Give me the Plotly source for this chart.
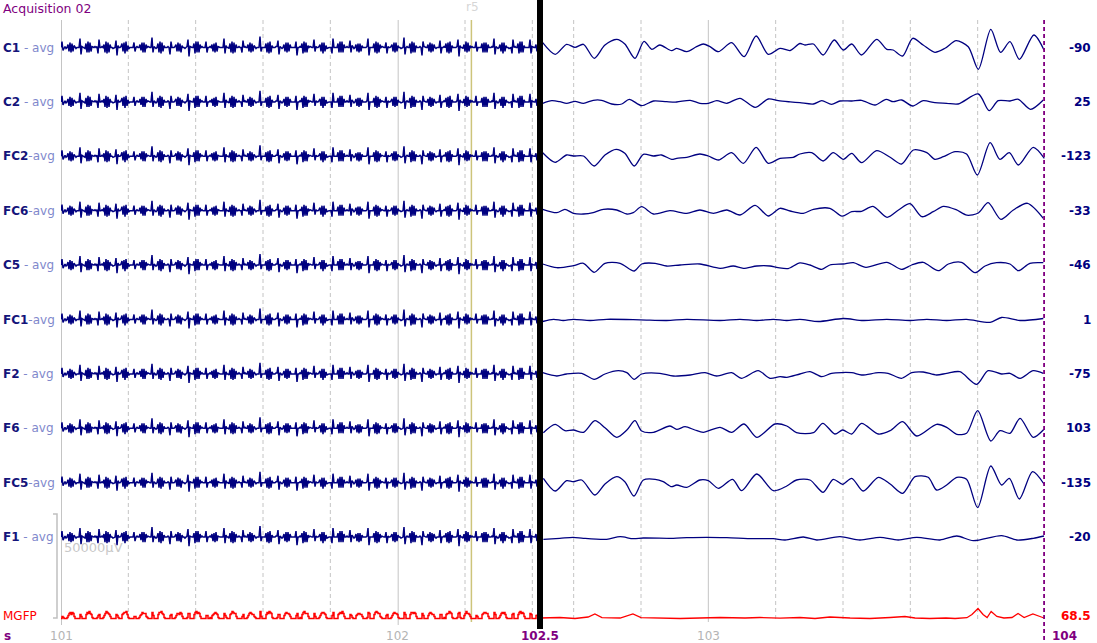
import numpy as np
import plotly.graph_objects as go

# ---------------- data ----------------
channels = ["C1", "C2", "FC2", "FC6", "C5", "FC1", "F2", "F6", "FC5", "F1"]
ref_suffix = [" - avg", " - avg", "-avg", "-avg", " - avg", "-avg", " - avg", " - avg", "-avg", " - avg"]
cursor_values = ["-90", "25", "-123", "-33", "-46", "1", "-75", "103", "-135", "-20"]
mgfp_value = "68.5"

# older sweep (101 s .. cursor): stimulation artefact, same on every channel (one sample per display step)
artifact = [
    0, 6, -3, 0, 1, -1, 0, 3, -4, 5, -5, 4, -4, 2, 0, -1, 0, 0,
    0, 9, -7, 1, 0, 0, -1, 4, -5, 6, -5, 5, -4, 1, 0, 0, 1, 0,
    1, -6, 8, 0, 0, 1, 0, 3, -5, 6, -6, 5, -5, 3, 0, 0, -1, 0,
    0, 7, -8, 2, 0, 0, 1, 4, -4, 5, -6, 6, -4, 2, -1, 0, 0, 0,
    0, 5, -4, 0, 1, 0, 0, 3, -3, 5, -5, 5, -5, 3, 0, 1, 0, 0,
    0, 10, -5, 1, 0, -1, 0, 4, -5, 6, -6, 5, -4, 2, 0, 0, 0, 1,
    0, -7, 6, 0, 0, 0, 1, 3, -4, 5, -4, 4, -5, 2, 0, 0, -1, 0,
    1, 8, -9, 1, 0, 0, 0, 4, -6, 6, -5, 6, -5, 3, 0, 1, 0, 0,
    0, 6, -5, 0, 0, 1, 0, 3, -4, 4, -5, 5, -4, 1, 0, 0, 0, 0,
    0, 9, -6, 2, 0, 0, -1, 4, -5, 6, -6, 5, -5, 3, 0, 0, 1, 0,
    0, -5, 7, 0, 1, 0, 0, 3, -4, 5, -5, 4, -4, 2, 0, -1, 0, 0,
    0, 11, -4, 0, 0, 0, 0, 4, -5, 5, -6, 6, -5, 2, 0, 0, 0, 1,
    1, 7, -7, 1, 0, -1, 0, 3, -4, 5, -5, 5, -4, 3, 0, 0, 0, 0,
    0, 6, -8, 0, 0, 1, 0, 4, -6, 6, -5, 5, -5, 2, 0, 1, 0, 0,
    0, 8, -4, 1, 0, 0, 1, 3, -4, 5, -6, 5, -4, 2, -1, 0, 0, 0,
    0, -6, 9, 0, 0, 0, 0, 4, -5, 6, -5, 6, -5, 3, 0, 0, 1, 0,
    0, 7, -5, 2, 0, -1, 0, 3, -4, 4, -5, 4, -4, 2, 0, 0, 0, 0,
    1, 9, -8, 0, 0, 0, 0, 4, -5, 6, -6, 5, -5, 3, 0, 1, 0, 0,
    0, 5, -6, 1, 0, 0, 1, 3, -4, 5, -5, 5, -4, 2, 0, 0, -1, 0,
    0, 10, -7, 0, 1, 0, 0, 4, -6, 6, -5, 5, -5, 2, 0, 0, 0, 1,
    0, -8, 6, 1, 0, 0, 0, 3, -4, 5, -5, 4, -4, 3, 0, -1, 0, 0,
    0, 7, -6, 0, 0, 1, 0, 4, -5, 5, -6, 6, -5, 2, 0, 0, 0, 0,
    1, 8, -9, 2, 0, 0, -1, 3, -4, 6, -5, 5, -4, 2, 0, 1, 0, 0,
    0, 6, -4, 0, 0, 0, 0, 4, -5, 5, -5, 5, -5, 3, 0, 0, 0, 1,
    0, 9, -7, 1, 0, -1, 0, 3, -4, 5, -6, 5, -4, 2, 0, 0, -1, 0,
    0, -6, 8, 0, 1, 0, 0, 4, -6, 6, -5, 6, -5, 2, 0, 0, 0, 0,
    0, 8, -6, 1, 0, 0, 0, 3, -4,
]

mgfp_left = [
    0, 2, 1, 0, 0, 0, 1, 3, 5, 6, 4, 6, 5, 2, 0, 0, 0, 0,
    0, 4, 2, 0, 0, 0, 0, 4, 6, 5, 7, 5, 4, 1, 0, 0, 0, 0,
    1, 3, 4, 0, 0, 0, 1, 3, 5, 7, 6, 5, 4, 2, 0, 0, 0, 0,
    0, 4, 3, 1, 0, 0, 0, 4, 5, 6, 6, 7, 4, 1, 0, 0, 0, 0,
    0, 2, 2, 0, 0, 0, 1, 3, 4, 6, 5, 5, 5, 2, 1, 0, 0, 0,
    0, 6, 3, 0, 0, 0, 0, 4, 6, 6, 7, 5, 4, 1, 0, 0, 0, 0,
    0, 3, 4, 0, 0, 0, 1, 3, 5, 5, 4, 6, 5, 2, 0, 0, 0, 0,
    1, 5, 5, 0, 0, 0, 0, 4, 6, 7, 5, 6, 5, 2, 0, 0, 0, 0,
    0, 3, 3, 0, 0, 1, 0, 3, 4, 5, 6, 5, 4, 1, 0, 0, 0, 0,
    0, 5, 3, 1, 0, 0, 0, 4, 5, 7, 6, 5, 5, 2, 0, 0, 0, 0,
    0, 2, 4, 0, 0, 0, 1, 3, 5, 6, 5, 4, 4, 2, 1, 0, 0, 0,
    0, 7, 2, 0, 0, 0, 0, 4, 6, 5, 7, 6, 5, 1, 0, 0, 0, 0,
    1, 4, 4, 0, 0, 0, 0, 3, 5, 6, 5, 5, 4, 2, 0, 0, 0, 0,
    0, 3, 5, 0, 0, 1, 0, 4, 6, 7, 5, 5, 5, 2, 0, 0, 0, 0,
    0, 5, 2, 0, 0, 0, 1, 3, 5, 6, 6, 5, 4, 1, 0, 0, 0, 0,
    0, 3, 6, 0, 0, 0, 0, 4, 5, 6, 5, 7, 5, 2, 0, 0, 0, 0,
    0, 4, 3, 1, 0, 0, 0, 3, 4, 5, 5, 4, 4, 2, 0, 0, 0, 0,
    1, 6, 5, 0, 0, 0, 0, 4, 6, 7, 6, 5, 5, 2, 1, 0, 0, 0,
    0, 3, 4, 0, 0, 0, 1, 3, 5, 6, 5, 5, 4, 1, 0, 0, 0, 0,
    0, 6, 4, 0, 0, 0, 0, 4, 6, 6, 5, 6, 5, 2, 0, 0, 0, 0,
    0, 5, 3, 0, 0, 0, 0, 3, 5, 6, 5, 4, 4, 2, 0, 0, 0, 0,
    0, 4, 4, 0, 0, 1, 0, 4, 5, 5, 7, 6, 5, 1, 0, 0, 0, 0,
    1, 5, 6, 1, 0, 0, 0, 3, 5, 7, 5, 5, 4, 2, 0, 0, 0, 0,
    0, 3, 2, 0, 0, 0, 0, 4, 5, 6, 6, 5, 5, 2, 0, 0, 0, 0,
    0, 6, 4, 0, 0, 0, 1, 3, 5, 6, 5, 6, 4, 1, 0, 0, 0, 0,
    0, 4, 5, 0, 0, 0, 0, 4, 6, 7, 5, 6, 5, 2, 0, 0, 0, 0,
    0, 5, 4, 0, 0, 0, 0, 3, 4,
]

# current sweep (102.5 s .. 104 s): time (s) / amplitude pairs per channel
c1_t = [102.508, 102.545, 102.579, 102.604, 102.629, 102.661, 102.693, 102.728, 102.752, 102.782, 102.809,
        102.832, 102.856, 102.891, 102.906, 102.936, 102.965, 102.985, 103.005, 103.030, 103.069, 103.106,
        103.142, 103.178, 103.213, 103.243, 103.272, 103.287, 103.312, 103.341, 103.374, 103.401, 103.426,
        103.455, 103.500, 103.530, 103.549, 103.577, 103.607, 103.638, 103.673, 103.703, 103.736, 103.772,
        103.802, 103.839, 103.868, 103.896, 103.924, 103.967, 103.997]
c1_v = [4.8, -6.8, 3.2, 0.2, 3.2, -10.8, 2.5, 8.2, 3.5, -10.8, 6.2,
        -1.8, 2.5, -3.2, -0.8, -4.2, 0.8, 3.5, 0.8, -4.2, 4.8, -9.2,
        11.5, -6.8, -0.8, -3.0, 4.0, 2.5, 3.5, -7.5, 7.5, -2.5, 3.5,
        -7.5, 8.2, -1.8, -2.5, -8.5, 9.2, 2.5, -4.8, -0.8, 6.8, 0.8,
        -21.8, 18.2, -4.8, 5.8, -11.8, 12.5, -2.5]

c2_t = [102.508, 102.535, 102.559, 102.579, 102.604, 102.629, 102.658, 102.683, 102.713, 102.743, 102.765,
        102.802, 102.837, 102.876, 102.906, 102.946, 102.975, 103.000, 103.025, 103.055, 103.094, 103.139,
        103.178, 103.208, 103.243, 103.272, 103.312, 103.337, 103.366, 103.391, 103.426, 103.455, 103.495,
        103.528, 103.549, 103.574, 103.607, 103.638, 103.673, 103.708, 103.742, 103.802, 103.834, 103.861,
        103.896, 103.921, 103.957, 103.995]
c2_v = [-1.4, 1.2, 0.2, -1.4, 0.6, -1.4, 1.6, 1.6, -2.1, -2.1, 2.6,
        -3.8, 0.9, 0.2, -0.1, 1.6, -1.4, -1.4, 1.2, -1.4, 3.6, -5.4,
        2.9, 1.2, 0.0, -0.8, -2.1, 1.2, -2.4, 0.9, 0.9, 1.6, -3.1,
        2.6, 0.2, 1.9, -4.1, 1.2, -0.8, -1.4, -2.1, 7.9, -8.8, 1.2,
        0.9, 2.6, -7.4, 1.9]

fc2_t = [102.508, 102.545, 102.579, 102.599, 102.629, 102.661, 102.693, 102.726, 102.752, 102.780, 102.807,
         102.837, 102.861, 102.891, 102.906, 102.936, 102.975, 103.000, 103.030, 103.069, 103.104, 103.142,
         103.178, 103.213, 103.252, 103.272, 103.307, 103.341, 103.371, 103.401, 103.426, 103.455, 103.500,
         103.540, 103.574, 103.609, 103.649, 103.673, 103.698, 103.733, 103.767, 103.799, 103.837, 103.866,
         103.894, 103.921, 103.965, 103.998]
fc2_v = [3.6, -6.0, 1.3, 0.3, 0.3, -9.7, 1.3, 7.0, 3.0, -9.7, 2.0,
         0.3, 1.3, -3.0, -2.0, -1.0, 2.3, 0.3, -3.7, 3.6, -7.0, 9.0,
         -7.0, -2.0, -1.0, 2.3, 3.6, -4.7, 3.6, -3.0, 3.0, -6.4, 5.6,
         -1.0, -7.7, 6.3, 3.6, -3.0, -0.4, 4.6, 2.3, -18.7, 13.6, -3.0,
         3.6, -8.7, 9.0, -2.0]

fc6_t = [102.508, 102.550, 102.574, 102.599, 102.629, 102.658, 102.688, 102.728, 102.758, 102.777, 102.802,
         102.837, 102.886, 102.936, 102.975, 103.015, 103.055, 103.094, 103.139, 103.178, 103.213, 103.243,
         103.282, 103.312, 103.361, 103.397, 103.426, 103.455, 103.489, 103.531, 103.566, 103.599, 103.634,
         103.668, 103.698, 103.736, 103.768, 103.802, 103.831, 103.869, 103.906, 103.948, 103.995]
fc6_v = [1.4, -2.0, 1.4, -2.6, -3.3, -2.0, 1.4, 0.7, -3.3, -2.0, 4.0,
         -3.3, 0.0, -2.6, 0.7, -2.6, 0.7, -4.3, 5.4, -5.3, 2.4, -0.3,
         -2.6, 1.4, 2.4, -5.5, -1.0, -0.6, 4.3, -6.6, 1.0, 7.0, -6.0,
         -1.0, 4.3, 1.0, -4.5, -2.3, 8.0, -8.6, 0.7, 7.4, -7.6]

c5_t = [102.508, 102.550, 102.599, 102.629, 102.661, 102.693, 102.738, 102.780, 102.802, 102.842, 102.876,
        102.916, 102.975, 103.035, 103.074, 103.104, 103.144, 103.183, 103.207, 103.237, 103.272, 103.302,
        103.337, 103.361, 103.401, 103.431, 103.468, 103.530, 103.574, 103.604, 103.638, 103.683, 103.713,
        103.752, 103.792, 103.822, 103.856, 103.896, 103.921, 103.955, 103.995]
c5_v = [1.1, -2.6, -0.6, 1.8, -7.2, 1.8, 1.8, -5.9, 1.1, 1.8, -0.9,
        0.1, 1.1, -3.2, -0.9, -3.2, -0.9, -0.9, -2.6, -3.5, 2.2, 0.1,
        -4.2, 0.1, 1.1, 2.4, -2.2, 2.8, -4.2, 0.1, 2.8, -5.6, 1.1,
        2.8, -7.6, -0.9, 2.4, 1.1, -5.6, 1.8, 2.4]

fc1_t = [102.508, 102.540, 102.569, 102.599, 102.649, 102.698, 102.797, 102.876, 102.936, 103.035, 103.094,
         103.144, 103.193, 103.233, 103.272, 103.327, 103.401, 103.460, 103.530, 103.599, 103.649, 103.708,
         103.767, 103.837, 103.871, 103.926, 103.995]
fc1_v = [-2.0, 0.2, -1.0, 0.2, -1.0, 0.2, -0.3, -1.0, 0.2, -1.0, 0.2,
         -1.0, 0.2, -1.0, 0.2, -2.0, 1.0, -1.0, 0.2, -1.0, 0.2, -1.0,
         0.2, -2.8, 2.0, -1.0, 1.0]

f2_t = [102.508, 102.550, 102.579, 102.624, 102.661, 102.693, 102.733, 102.758, 102.780, 102.802, 102.856,
        102.896, 102.946, 102.990, 103.025, 103.069, 103.099, 103.148, 103.183, 103.213, 103.233, 103.272,
        103.302, 103.337, 103.366, 103.426, 103.455, 103.505, 103.534, 103.574, 103.604, 103.638, 103.678,
        103.708, 103.747, 103.797, 103.831, 103.871, 103.896, 103.926, 103.965, 103.995]
f2_v = [1.2, -2.1, -0.1, 0.6, -5.4, -0.1, 3.2, 1.2, -5.4, -0.1, 0.6,
        -2.1, -1.1, 1.2, -2.1, 1.2, -4.4, 3.2, -4.4, -2.8, -3.4, -0.1,
        2.2, -2.8, 0.6, 1.2, -1.1, 1.2, 0.6, -4.4, 1.2, 1.9, -1.1,
        0.6, 2.2, -10.4, 3.2, -0.1, 0.6, -4.4, 3.2, 0.6]

f6_t = [102.510, 102.545, 102.574, 102.599, 102.629, 102.663, 102.693, 102.728, 102.758, 102.782, 102.802,
        102.837, 102.886, 102.906, 102.931, 102.960, 102.985, 103.035, 103.069, 103.106, 103.144, 103.198,
        103.233, 103.262, 103.312, 103.340, 103.376, 103.399, 103.426, 103.455, 103.505, 103.540, 103.577,
        103.619, 103.678, 103.708, 103.738, 103.767, 103.800, 103.839, 103.866, 103.896, 103.926, 103.965,
        103.997]
f6_v = [-4.4, 4.0, -2.4, -1.7, -4.0, 7.6, 0.6, -9.0, -1.7, 7.6, -2.7,
        -4.0, 2.3, -1.0, 1.6, -1.7, -4.0, 1.0, -4.0, 4.3, -9.0, 4.3,
        2.3, -4.4, -4.4, 5.0, -5.7, -1.7, -5.7, 5.0, -5.7, -2.4, 6.6,
        -7.7, 4.0, 1.0, -6.0, -5.0, 17.6, -12.7, -2.4, -5.0, 10.0, -9.0,
        -1.0]

fc5_t = [102.510, 102.545, 102.579, 102.599, 102.624, 102.663, 102.693, 102.728, 102.752, 102.779, 102.807,
         102.842, 102.866, 102.891, 102.906, 102.936, 102.975, 103.000, 103.030, 103.072, 103.099, 103.144,
         103.193, 103.233, 103.262, 103.302, 103.341, 103.371, 103.399, 103.426, 103.460, 103.505, 103.540,
         103.577, 103.614, 103.653, 103.678, 103.708, 103.738, 103.767, 103.800, 103.839, 103.871, 103.894,
         103.924, 103.963, 103.997]
fc5_v = [4.4, -8.3, 2.0, 1.0, 2.7, -12.3, -1.3, 6.0, 1.0, -13.3, 2.7,
         3.4, 1.0, -4.0, -2.3, -4.6, 2.7, 2.0, -5.6, 3.4, -8.0, 8.7,
         -8.0, -3.3, 2.7, 2.7, -9.6, 3.4, -1.6, 4.4, -8.3, 5.4, -1.3,
         -10.6, 6.0, 5.4, -7.3, -2.3, 5.4, 3.4, -25.0, 16.7, -2.3, 4.4,
         -16.3, 11.0, -1.3]

f1_t = [102.510, 102.559, 102.599, 102.629, 102.698, 102.738, 102.777, 102.807, 102.896, 102.936, 102.995,
        103.055, 103.134, 103.193, 103.228, 103.282, 103.322, 103.391, 103.450, 103.510, 103.564, 103.619,
        103.688, 103.738, 103.787, 103.871, 103.916, 103.965, 103.997]
f1_v = [-2.2, -1.2, -0.2, -1.2, -2.2, 0.4, -1.6, -0.9, -1.2, -0.6, -0.2,
        -0.6, -1.6, -1.6, -2.9, 0.1, -2.9, 0.4, -2.9, -0.2, -2.9, -0.2,
        -2.9, 1.1, -3.6, 1.4, -2.9, -1.2, 1.1]

mgfp_t = [102.500, 102.559, 102.604, 102.643, 102.663, 102.684, 102.738, 102.776, 102.800, 102.856, 102.916,
          102.975, 103.035, 103.109, 103.153, 103.213, 103.272, 103.317, 103.361, 103.421, 103.480, 103.540,
          103.584, 103.614, 103.658, 103.706, 103.733, 103.768, 103.783, 103.801, 103.816, 103.828, 103.840,
          103.857, 103.878, 103.902, 103.920, 103.938, 103.964, 103.985, 103.997]
mgfp_v = [0.5, 1.0, 0.0, 1.5, 4.5, 0.8, 0.5, 4.5, 0.8, 0.5, 0.0,
          0.5, 1.0, 0.5, 1.0, 0.3, 1.0, 0.0, 1.5, 0.5, 0.0, 1.0,
          2.0, 0.5, 0.0, 0.5, 0.0, 0.8, 4.0, 10.0, 4.0, 1.0, 7.0,
          2.0, 0.5, 1.0, 5.0, 1.0, 4.5, 2.0, 0.5]

marker_time = 102.219
marker_name = "r5"
scale_text = "50000µV"

right_t = [c1_t, c2_t, fc2_t, fc6_t, c5_t, fc1_t, f2_t, f6_t, fc5_t, f1_t]
right_v = [c1_v, c2_v, fc2_v, fc6_v, c5_v, fc1_v, f2_v, f6_v, fc5_v, f1_v]

# ---------------- layout constants ----------------
W, H = 1097, 643
L, R = 61, 52
PX_PER_S = 336.67
X0 = 101.0
X1 = X0 + (W - L - R) / PX_PER_S
CURSOR_T = 102.5
CURSOR_X = X0 + 479 / PX_PER_S          # display position of the sweep cursor
GAP = CURSOR_T - CURSOR_X               # shift applied to the current sweep
BASE0, STEP = 47.5, 54.4
MGFP_BASE = 618.5
NAVY = "#000080"
FONT = "DejaVu Sans"

def px2paper(px):
    return (px - L) / (W - L - R)

fig = go.Figure()

left_x = X0 + np.arange(len(artifact)) / PX_PER_S
for k, ch in enumerate(channels):
    base = BASE0 + k * STEP
    fig.add_trace(go.Scatter(x=left_x, y=base - np.array(artifact, float), mode="lines",
                             line=dict(color=NAVY, width=1.5), hoverinfo="skip"))
    fig.add_trace(go.Scatter(x=np.array(right_t[k]) - GAP, y=base - np.array(right_v[k]), mode="lines",
                             line=dict(color=NAVY, width=1.3, shape="spline", smoothing=0.8),
                             hoverinfo="skip"))

fig.add_trace(go.Scatter(x=X0 + np.arange(len(mgfp_left)) / PX_PER_S,
                         y=MGFP_BASE - np.array(mgfp_left, float), mode="lines",
                         line=dict(color="#ff0000", width=1.5, shape="hv"), hoverinfo="skip"))
fig.add_trace(go.Scatter(x=np.array(mgfp_t) - GAP, y=MGFP_BASE - np.array(mgfp_v), mode="lines",
                         line=dict(color="#ff0000", width=1.3), hoverinfo="skip"))

shapes = []
GRID = "#c4c4c4"
def vline(x, color, dash, width=1, y0=20, y1=622):
    shapes.append(dict(type="line", xref="x", yref="y", x0=x, x1=x, y0=y0, y1=y1,
                       line=dict(color=color, width=width, dash=dash), layer="below"))

for t in [101.2, 101.4, 101.6, 101.8, 102.2, 102.4]:
    vline(t, GRID, "4px,3px")
for t in [101.0, 102.0]:
    vline(t + 0.0015, GRID, "solid", y1=625)
for t in [102.6, 102.8, 103.2, 103.4, 103.6, 103.8]:
    vline(t - GAP, GRID, "4px,3px")
vline(103.0 - GAP, GRID, "solid")
vline(marker_time, "#cdc47a", "solid", width=1.5)
shapes.append(dict(type="line", xref="x", yref="y", x0=104.0 - GAP - 0.001, x1=104.0 - GAP - 0.001,
                   y0=20, y1=643, line=dict(color="#800080", width=3, dash="4px,3px")))
shapes.append(dict(type="line", xref="x", yref="y", x0=CURSOR_X, x1=CURSOR_X, y0=0, y1=629,
                   line=dict(color="#000000", width=6)))
# scale bracket
sx0, sx1 = px2paper(53), px2paper(57)
shapes.append(dict(type="path", xref="paper", yref="y",
                   path=f"M {sx0} 514 L {sx1} 514 L {sx1} 618 L {sx0} 618",
                   line=dict(color="#c0c0c0", width=1.5)))

ann = []
def text(x, y, s, color, size=12, anchor="left", bold=False, xref="paper", bg=None):
    if bold:
        s = "<b>" + s + "</b>"
    d = dict(x=x, y=y, xref=xref, yref="y", text=s, showarrow=False, xanchor=anchor,
             yanchor="middle", font=dict(family=FONT, size=size, color=color))
    if bg:
        d["bgcolor"] = bg
    ann.append(d)

text(px2paper(1), 8, "Acquisition 02", "#800080", size=12.5)
text(px2paper(472), 7, marker_name, "#d6d6d6", anchor="center")
for k, ch in enumerate(channels):
    y = BASE0 + k * STEP
    text(px2paper(1), y, f"<b><span style='color:#14147a'>{ch}</span></b>"
                          f"<span style='color:#8088cc'>{ref_suffix[k]}</span>", NAVY)
    text(px2paper(1093), y, cursor_values[k], NAVY, anchor="right", bold=True)
text(px2paper(1), MGFP_BASE - 3, "MGFP", "#ff0000")
text(px2paper(1093), MGFP_BASE - 3, mgfp_value, "#ff0000", anchor="right", bold=True)
text(px2paper(62), 547, scale_text, "#c8c8c8", size=13)

text(px2paper(2), 636, "s", "#800080", bold=True)
for t in [101, 102]:
    text(t, 636, str(t), "#b4b4b4", anchor="center", xref="x")
text(103 - GAP, 636, "103", "#b4b4b4", anchor="center", xref="x")
text(104 - GAP, 636, "104", "#b4b4b4", anchor="center", xref="x")
text(CURSOR_X, 636, f"{CURSOR_T}", "#800080", anchor="center", xref="x", bold=True)
text(px2paper(1050), 636, "104", "#800080", bg="#ffffff", bold=True)

fig.update_layout(
    width=W, height=H, margin=dict(l=L, r=R, t=0, b=0, pad=0),
    paper_bgcolor="#ffffff", plot_bgcolor="#ffffff", showlegend=False,
    xaxis=dict(range=[X0, X1], visible=False, fixedrange=True),
    yaxis=dict(range=[H, 0], visible=False, fixedrange=True),
    shapes=shapes, annotations=ann,
)
fig.write_html("out.html", config={"displayModeBar": False},
               post_script="document.body.style.margin='0';document.body.style.overflow='hidden';")
